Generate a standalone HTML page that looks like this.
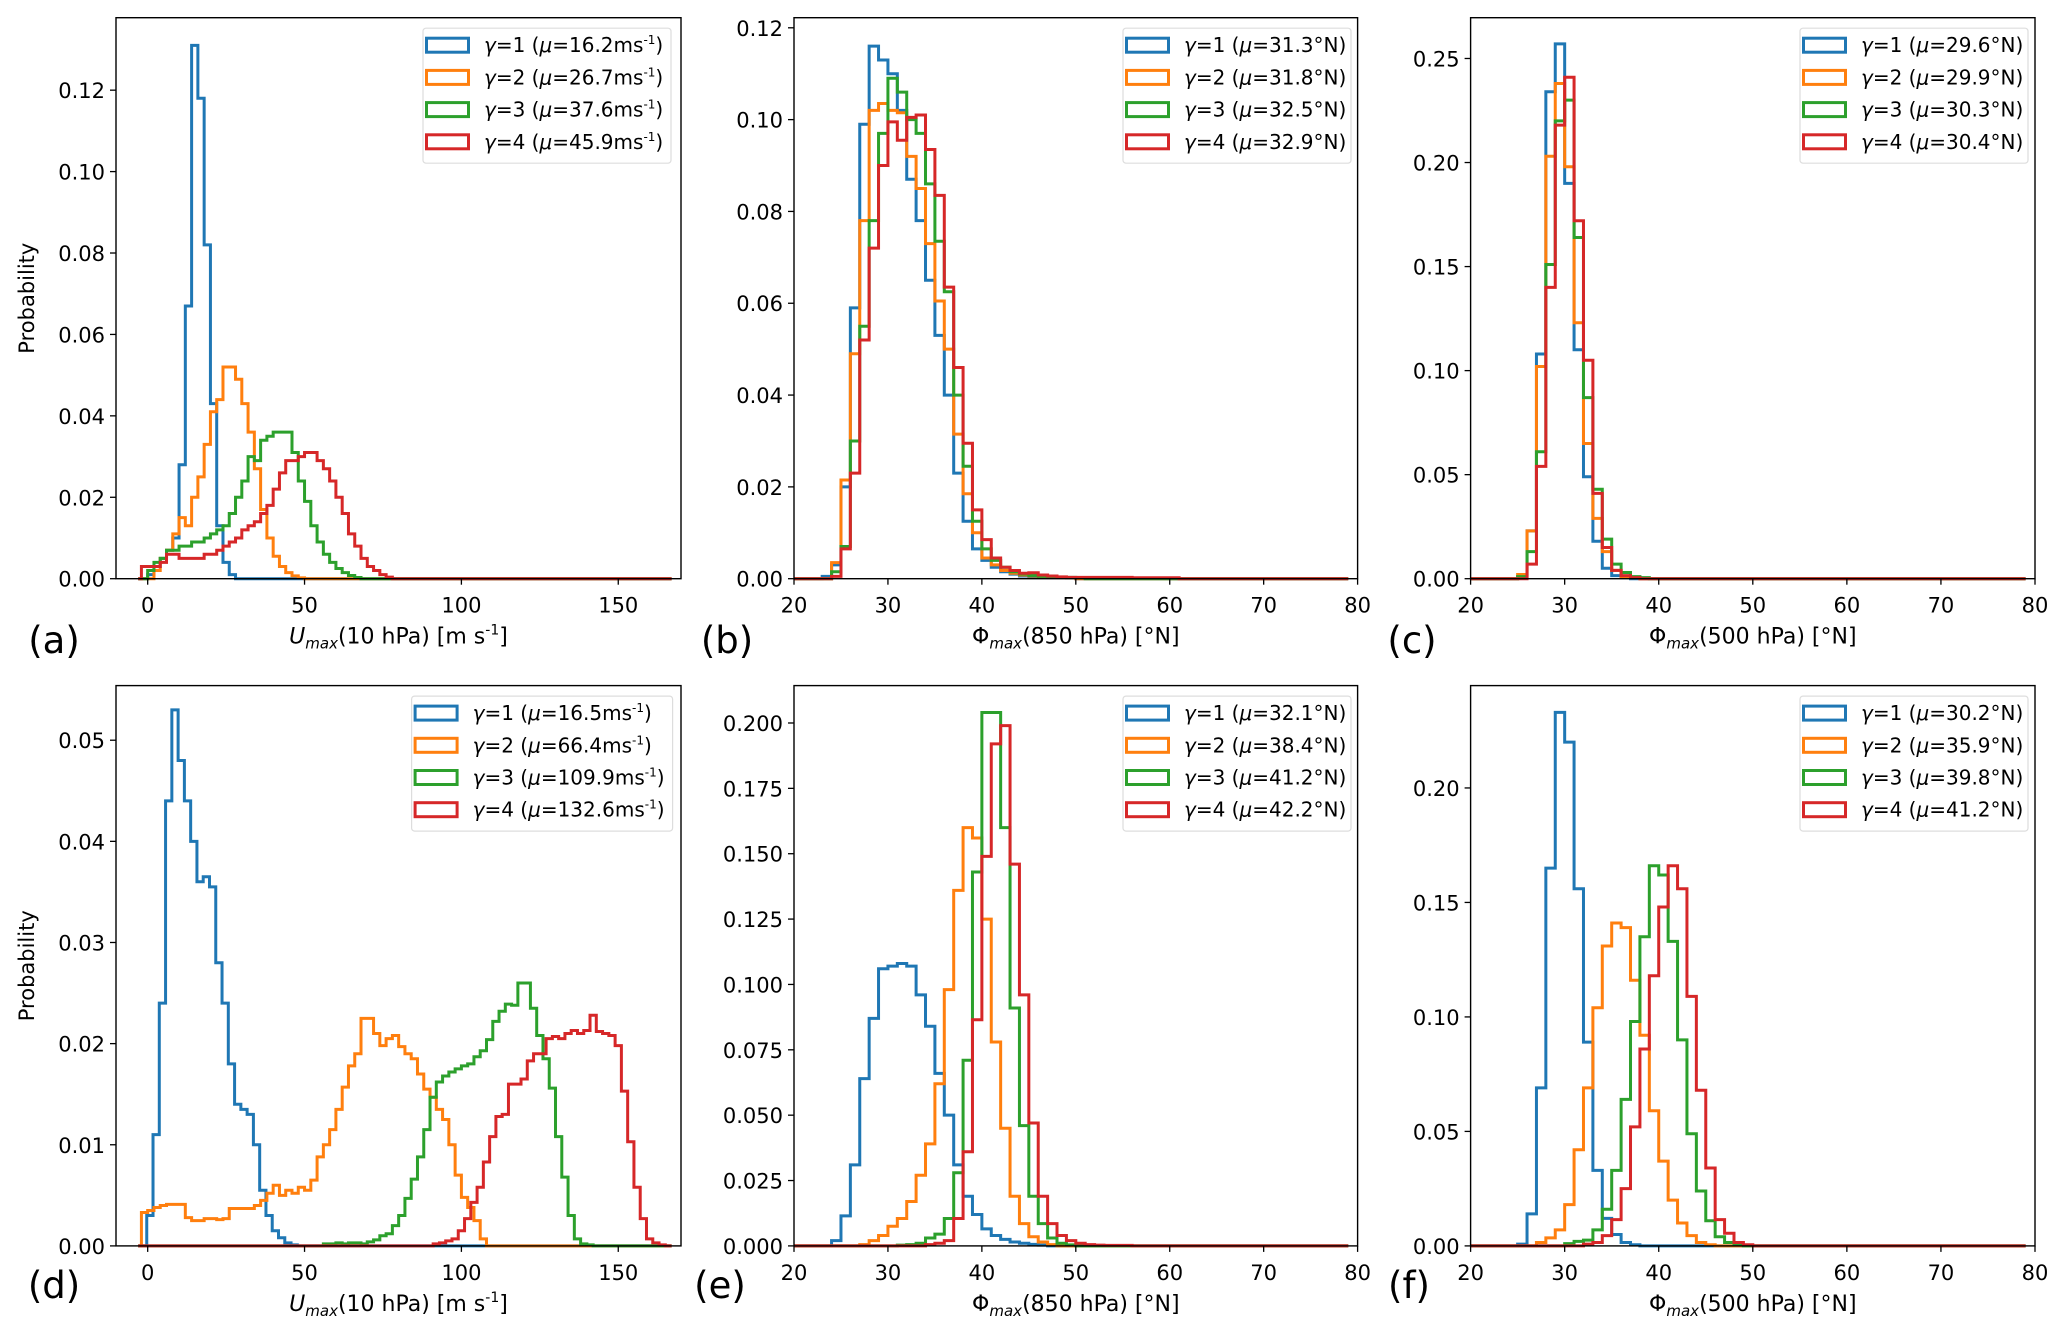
<!DOCTYPE html>
<html><head><meta charset="utf-8"><title>Histograms</title>
<style>
html,body{margin:0;padding:0;background:#fff;}
svg{display:block;}
text{font-family:"DejaVu Sans","Liberation Sans",sans-serif;fill:#000;}
</style></head>
<body>
<svg id="fig" xmlns="http://www.w3.org/2000/svg" width="2067" height="1333" viewBox="0 0 2067 1333"></svg>
<script>
// ---------- DATA (probability per bin) ----------
const colors = ['#1f77b4','#ff7f0e','#2ca02c','#d62728'];
// Panel (a): Umax 10 hPa, top row
const a_starts = [0, 2, 0, -2];
const a_widths = [2, 2, 2, 2];
const a_blue = [0.001,0.003,0.005,0.007,0.010,0.028,0.067,0.131,0.118,0.082,0.043,0.013,0.004,0.001];
const a_orange = [0.002,0.005,0.007,0.011,0.015,0.013,0.020,0.025,0.033,0.041,0.044,0.052,0.052,0.049,0.043,0.036,0.027,0.017,0.010,0.0055,0.003,0.0015,0.0007,0.0002];
const a_green = [0.002,0.004,0.005,0.007,0.007,0.008,0.008,0.009,0.009,0.010,0.011,0.012,0.013,0.016,0.020,0.024,0.030,0.029,0.034,0.035,0.036,0.036,0.036,0.031,0.024,0.019,0.013,0.009,0.006,0.004,0.0025,0.0015,0.0008,0.0003];
const a_red = [0.003,0.003,0.003,0.004,0.006,0.006,0.005,0.005,0.005,0.005,0.006,0.006,0.007,0.008,0.009,0.010,0.012,0.013,0.014,0.016,0.018,0.022,0.026,0.029,0.029,0.030,0.031,0.031,0.029,0.027,0.024,0.020,0.016,0.011,0.008,0.005,0.003,0.002,0.001,0.0004];
// Panel (b): Phi max 850 hPa, top row
const b_starts = [23, 24, 24, 24];
const b_widths = [1, 1, 1, 1];
const b_blue = [0.0005,0.003,0.020,0.059,0.099,0.116,0.113,0.110,0.102,0.087,0.078,0.065,0.053,0.040,0.023,0.0125,0.0065,0.004,0.0025,0.0015,0.001,0.0006,0.0004,0.0004,0.0003,0.0003,0.0002];
const b_orange = [0.0035,0.0215,0.049,0.078,0.102,0.1035,0.102,0.1015,0.092,0.085,0.073,0.0605,0.050,0.0315,0.0185,0.010,0.0045,0.003,0.0018,0.0012,0.0008,0.0006,0.0004,0.0003,0.0003,0.0002];
const b_green = [0.0015,0.007,0.030,0.055,0.078,0.097,0.109,0.106,0.100,0.097,0.086,0.0735,0.0625,0.040,0.0245,0.0125,0.0065,0.004,0.0025,0.0015,0.001,0.0007,0.0005,0.0004,0.0003,0.0003,0.0002];
const b_red = [0.0005,0.0065,0.023,0.052,0.072,0.090,0.0995,0.0955,0.1005,0.101,0.0935,0.0835,0.0635,0.046,0.0295,0.0150,0.0085,0.0045,0.0025,0.0018,0.0012,0.0013,0.0008,0.0006,0.0004,0.0003,0.0003,0.0003,0.0003,0.0003,0.0003,0.0003,0.0002,0.0002,0.0002,0.0002,0.0002];
// Panel (c): Phi max 500 hPa, top row
const c_starts = [25, 25, 25, 26];
const c_widths = [1, 1, 1, 1];
const c_blue = [0.001,0.023,0.108,0.234,0.257,0.190,0.110,0.049,0.018,0.005,0.0015,0.0005];
const c_orange = [0.002,0.023,0.102,0.203,0.238,0.198,0.123,0.065,0.029,0.013,0.004,0.001,0.0005];
const c_green = [0.001,0.013,0.061,0.151,0.220,0.230,0.164,0.087,0.043,0.019,0.007,0.003,0.001,0.0005];
const c_red = [0.007,0.054,0.140,0.218,0.241,0.172,0.105,0.041,0.015,0.004,0.0015,0.0005];
// Panel (d): Umax 10 hPa, bottom row
const d_starts = [-0.3, -2, 56, 91];
const d_widths = [2, 2, 2, 2];
const d_blue = [0.003,0.011,0.024,0.044,0.053,0.048,0.044,0.040,0.036,0.0365,0.0355,0.028,0.024,0.018,0.014,0.0135,0.013,0.010,0.0055,0.003,0.0015,0.0008,0.0003,0.0001];
const d_orange = [0.0033,0.0035,0.0038,0.0040,0.0041,0.0041,0.0041,0.0028,0.0025,0.0025,0.0027,0.0027,0.0026,0.0027,0.0037,0.0037,0.0037,0.0037,0.0040,0.0045,0.0052,0.0060,0.0050,0.0055,0.0052,0.0058,0.0055,0.0065,0.0088,0.0100,0.0115,0.0135,0.0157,0.0178,0.0190,0.0225,0.0225,0.0210,0.0198,0.0205,0.0208,0.0197,0.0190,0.0185,0.0170,0.0155,0.0147,0.0135,0.0125,0.0100,0.0070,0.0048,0.0038,0.0025,0.0007];
const d_green = [0.0002,0.0002,0.0003,0.0002,0.0003,0.0003,0.0002,0.0004,0.0006,0.0010,0.0012,0.0020,0.0030,0.0047,0.0066,0.0088,0.0115,0.0147,0.0162,0.0168,0.0172,0.0175,0.0178,0.0180,0.0187,0.0193,0.0204,0.0222,0.0232,0.0239,0.0238,0.0260,0.0260,0.0235,0.0208,0.0185,0.0156,0.0108,0.0068,0.0030,0.0007,0.0002,0.0001];
const d_red = [0.0002,0.0003,0.0005,0.0007,0.0015,0.0027,0.0043,0.0058,0.0083,0.0108,0.0128,0.0130,0.0160,0.0160,0.0165,0.0183,0.0190,0.0190,0.0205,0.0207,0.0205,0.0210,0.0213,0.0210,0.0213,0.0228,0.0212,0.0210,0.0208,0.0198,0.0153,0.0103,0.0058,0.0027,0.0007,0.0003,0.0001];
// Panel (e): Phi max 850 hPa, bottom row
const e_starts = [24, 27, 31, 34];
const e_widths = [1, 1, 1, 1];
const e_blue = [0.002,0.0115,0.031,0.064,0.087,0.106,0.107,0.108,0.107,0.096,0.084,0.066,0.050,0.031,0.019,0.012,0.0065,0.004,0.0025,0.0015,0.001,0.0006,0.0003];
const e_orange = [0.0005,0.002,0.004,0.0075,0.0105,0.017,0.027,0.039,0.062,0.098,0.136,0.160,0.156,0.125,0.078,0.045,0.019,0.0085,0.0035,0.0015,0.0005];
const e_green = [0.0003,0.0005,0.001,0.003,0.0045,0.0105,0.028,0.071,0.143,0.204,0.204,0.160,0.091,0.046,0.019,0.0085,0.003,0.001,0.0004];
const e_red = [0.0005,0.001,0.002,0.0105,0.036,0.0865,0.149,0.192,0.199,0.146,0.096,0.047,0.019,0.0085,0.004,0.002,0.001,0.0005,0.0003,0.0002,0.0002,0.0002];
// Panel (f): Phi max 500 hPa, bottom row
const f_starts = [25, 27, 30, 32];
const f_widths = [1, 1, 1, 1];
const f_blue = [0.0008,0.014,0.069,0.165,0.233,0.220,0.156,0.089,0.033,0.012,0.005,0.0015,0.0005];
const f_orange = [0.0015,0.0035,0.007,0.018,0.042,0.069,0.104,0.131,0.141,0.139,0.116,0.092,0.059,0.037,0.020,0.010,0.0045,0.0015,0.0005];
const f_green = [0.001,0.002,0.0025,0.007,0.016,0.033,0.064,0.098,0.135,0.166,0.162,0.133,0.090,0.049,0.024,0.011,0.004,0.0015,0.0005];
const f_red = [0.0008,0.0015,0.0045,0.0115,0.025,0.052,0.086,0.118,0.148,0.166,0.156,0.109,0.068,0.034,0.0115,0.0055,0.0015,0.0005];
// tick labels
const uTicks = [0, 50, 100, 150];
const latTicks = [20, 30, 40, 50, 60, 70, 80];
const a_yticks = [0, 0.02, 0.04, 0.06, 0.08, 0.10, 0.12];
const b_yticks = [0, 0.02, 0.04, 0.06, 0.08, 0.10, 0.12];
const c_yticks = [0, 0.05, 0.10, 0.15, 0.20, 0.25];
const d_yticks = [0, 0.01, 0.02, 0.03, 0.04, 0.05];
const e_yticks = [0, 0.025, 0.05, 0.075, 0.1, 0.125, 0.15, 0.175, 0.2];
const f_yticks = [0, 0.05, 0.10, 0.15, 0.20];
const a_means = ['16.2','26.7','37.6','45.9'];
const b_means = ['31.3','31.8','32.5','32.9'];
const c_means = ['29.6','29.9','30.3','30.4'];
const d_means = ['16.5','66.4','109.9','132.6'];
const e_means = ['32.1','38.4','41.2','42.2'];
const f_means = ['30.2','35.9','39.8','41.2'];

// ---------- DRAWING ----------
const NS = 'http://www.w3.org/2000/svg';
const fig = document.getElementById('fig');
function mk(tag, parent){ const e = document.createElementNS(NS, tag); parent.appendChild(e); return e; }

const panels = [
 {id:'a', L:116, R:681, T:17.7, B:578.7, xmin:-10.1, xmax:170, ymax:0.1378, span:[-3,167], starts:a_starts, widths:a_widths, series:[a_blue,a_orange,a_green,a_red], xt:uTicks, yt:a_yticks, dec:2, means:a_means, unit:'ms', lx:423, lw:248, kind:'u', label:'(a)', labx:54, laby:653, ylab:true},
 {id:'b', L:794, R:1357.6, T:17.7, B:578.7, xmin:20, xmax:80, ymax:0.1222, span:[20,79], starts:b_starts, widths:b_widths, series:[b_blue,b_orange,b_green,b_red], xt:latTicks, yt:b_yticks, dec:2, means:b_means, unit:'deg', lx:1123, lw:228, kind:'850', label:'(b)', labx:727, laby:653},
 {id:'c', L:1470.6, R:2035, T:17.7, B:578.7, xmin:20, xmax:80, ymax:0.2696, span:[20,79], starts:c_starts, widths:c_widths, series:[c_blue,c_orange,c_green,c_red], xt:latTicks, yt:c_yticks, dec:2, means:c_means, unit:'deg', lx:1800, lw:228, kind:'500', label:'(c)', labx:1412, laby:653},
 {id:'d', L:116, R:681, T:685.6, B:1245.9, xmin:-10.1, xmax:170, ymax:0.0554, span:[-3,167], starts:d_starts, widths:d_widths, series:[d_blue,d_orange,d_green,d_red], xt:uTicks, yt:d_yticks, dec:2, means:d_means, unit:'ms', lx:411.6, lw:261, kind:'u', label:'(d)', labx:54, laby:1298, ylab:true},
 {id:'e', L:794, R:1357.6, T:685.6, B:1245.9, xmin:20, xmax:80, ymax:0.2143, span:[20,79], starts:e_starts, widths:e_widths, series:[e_blue,e_orange,e_green,e_red], xt:latTicks, yt:e_yticks, dec:3, means:e_means, unit:'deg', lx:1123, lw:228, kind:'850', label:'(e)', labx:720, laby:1298},
 {id:'f', L:1470.6, R:2035, T:685.6, B:1245.9, xmin:20, xmax:80, ymax:0.2447, span:[20,79], starts:f_starts, widths:f_widths, series:[f_blue,f_orange,f_green,f_red], xt:latTicks, yt:f_yticks, dec:2, means:f_means, unit:'deg', lx:1800, lw:228, kind:'500', label:'(f)', labx:1409, laby:1298}
];
const seriesNames = ['gamma-1','gamma-2','gamma-3','gamma-4'];

panels.forEach(p => {
  const g = mk('g', fig);
  
  
  const X = v => p.L + (v - p.xmin) / (p.xmax - p.xmin) * (p.R - p.L);
  const Y = v => p.B - v / p.ymax * (p.B - p.T);

  p.series.forEach((vals, si) => {
    const s = p.starts[si], w = p.widths[si];
    let d = 'M' + X(p.span[0]) + ',' + Y(0) + ' H' + X(s);
    vals.forEach((v, i) => {
      d += ' V' + Y(v).toFixed(2) + ' H' + X(s + (i + 1) * w).toFixed(2);
    });
    d += ' V' + Y(0) + ' H' + X(p.span[1]);
    const path = mk('path', g);
    path.setAttribute('d', d);
    path.setAttribute('fill', 'none');
    path.setAttribute('stroke', colors[si]);
    path.setAttribute('stroke-width', '3');
    path.setAttribute('stroke-linejoin', 'miter');
    
    
  });

  const fr = mk('rect', g);
  fr.setAttribute('x', p.L); fr.setAttribute('y', p.T);
  fr.setAttribute('width', p.R - p.L); fr.setAttribute('height', p.B - p.T);
  fr.setAttribute('fill', 'none'); fr.setAttribute('stroke', '#000'); fr.setAttribute('stroke-width', '1.4');
  
  

  p.yt.forEach(v => {
    const yy = Y(v);
    const tk = mk('line', g);
    tk.setAttribute('x1', p.L - 6); tk.setAttribute('x2', p.L); tk.setAttribute('y1', yy); tk.setAttribute('y2', yy);
    tk.setAttribute('stroke', '#000'); tk.setAttribute('stroke-width', '1.3');
    
    
    const t = mk('text', g);
    t.setAttribute('x', p.L - 11); t.setAttribute('y', yy + 8);
    t.setAttribute('text-anchor', 'end'); t.setAttribute('font-size', '21');
    t.textContent = v.toFixed(p.dec);
    
    
  });
  p.xt.forEach(v => {
    const xx = X(v);
    const tk = mk('line', g);
    tk.setAttribute('x1', xx); tk.setAttribute('x2', xx); tk.setAttribute('y1', p.B); tk.setAttribute('y2', p.B + 6);
    tk.setAttribute('stroke', '#000'); tk.setAttribute('stroke-width', '1.3');
    
    
    const t = mk('text', g);
    t.setAttribute('x', xx); t.setAttribute('y', p.B + 34);
    t.setAttribute('text-anchor', 'middle'); t.setAttribute('font-size', '21');
    t.textContent = String(v);
    
    
  });

  const xl = mk('text', g);
  xl.setAttribute('x', (p.L + p.R) / 2); xl.setAttribute('y', p.B + 65);
  xl.setAttribute('text-anchor', 'middle'); xl.setAttribute('font-size', '22');
  if (p.kind === 'u') {
    xl.innerHTML = '<tspan font-style="italic">U</tspan><tspan font-style="italic" font-size="15" dy="5">max</tspan><tspan dy="-5">(10 hPa) [m s</tspan><tspan font-size="14" dy="-9">-1</tspan><tspan dy="9">]</tspan>';
  } else {
    xl.innerHTML = '<tspan>Φ</tspan><tspan font-style="italic" font-size="15" dy="5">max</tspan><tspan dy="-5">(' + p.kind + ' hPa) [°N]</tspan>';
  }
  
  

  if (p.ylab) {
    const yl = mk('text', g);
    const cy = (p.T + p.B) / 2;
    yl.setAttribute('x', 34); yl.setAttribute('y', cy);
    yl.setAttribute('transform', 'rotate(-90 34 ' + cy + ')');
    yl.setAttribute('text-anchor', 'middle'); yl.setAttribute('font-size', '21');
    yl.textContent = 'Probability';
    
    
  }

  const pl = mk('text', g);
  pl.setAttribute('x', p.labx); pl.setAttribute('y', p.laby);
  pl.setAttribute('text-anchor', 'middle'); pl.setAttribute('font-size', '37');
  pl.setAttribute('font-family', 'Liberation Sans, Arial, sans-serif');
  pl.textContent = p.label;
  
  

  const lg = mk('g', g);
  
  
  const ly0 = p.T + 10.5;
  const lb = mk('rect', lg);
  lb.setAttribute('x', p.lx); lb.setAttribute('y', ly0);
  lb.setAttribute('width', p.lw); lb.setAttribute('height', 135);
  lb.setAttribute('rx', 3); lb.setAttribute('fill', '#fff'); lb.setAttribute('fill-opacity', '0.8');
  lb.setAttribute('stroke', '#ddd'); lb.setAttribute('stroke-width', '1.2');
  
  
  p.means.forEach((m, i) => {
    const cy = ly0 + 17 + i * 32.2;
    const ent = mk('g', lg);
    
    
    const pr = mk('rect', ent);
    pr.setAttribute('x', p.lx + 3.5); pr.setAttribute('y', cy - 7);
    pr.setAttribute('width', 42); pr.setAttribute('height', 14);
    pr.setAttribute('fill', 'none'); pr.setAttribute('stroke', colors[i]); pr.setAttribute('stroke-width', '3');
    const tx = mk('text', ent);
    tx.setAttribute('x', p.lx + 61); tx.setAttribute('y', cy + 7);
    tx.setAttribute('font-size', '20');
    if (p.unit === 'ms') {
      tx.innerHTML = '<tspan font-style="italic">γ</tspan>=' + (i + 1) + ' (<tspan font-style="italic">μ</tspan>=' + m + 'ms<tspan font-size="12" dy="-8">-1</tspan><tspan dy="8">)</tspan>';
    } else {
      tx.innerHTML = '<tspan font-style="italic">γ</tspan>=' + (i + 1) + ' (<tspan font-style="italic">μ</tspan>=' + m + '°N)';
    }
  });
});
</script>
</body></html>
